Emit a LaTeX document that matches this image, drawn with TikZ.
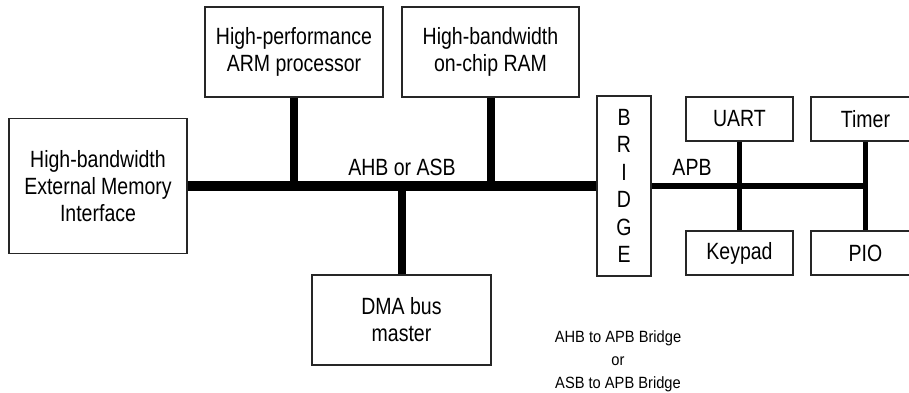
\documentclass[tikz,border=0pt]{standalone}
\usepackage{fontspec}
\setmainfont{Liberation Sans}[FakeStretch=0.83]
\newfontfamily\capfont{Liberation Sans}[FakeStretch=0.9]
\begin{document}
\begin{tikzpicture}[x=1pt,y=-1pt,
  box/.style={draw=black!85, line width=1.2pt, fill=white, inner sep=0pt,
    align=center, font=\fontsize{23.5}{27}\selectfont},
  bus/.style={line width=10pt},
  stub/.style={line width=8pt},
  apb/.style={line width=5.5pt},
  apbstub/.style={line width=4.5pt},
  lbl/.style={font=\fontsize{23.5}{27}\selectfont, inner sep=0pt},
  caption/.style={font=\capfont\fontsize{16.3}{23}\selectfont, inner sep=0pt, align=center}]
\useasboundingbox (0,0) rectangle (909,392);
\clip (0,0) rectangle (909,392);

\node[box, minimum width=178pt, minimum height=135pt] (ext) at (98,186)
  {High-bandwidth\\External Memory\\Interface};
\node[box, minimum width=178pt, minimum height=90pt] (arm) at (294,52)
  {High-performance\\ARM processor};
\node[box, minimum width=177pt, minimum height=90pt] (ram) at (490.5,52)
  {High-bandwidth\\on-chip RAM};
\node[box, minimum width=179pt, minimum height=90pt] (dma) at (401.5,320)
  {DMA bus\\master};
\node[box, minimum width=54pt, minimum height=180pt, font=\fontsize{23.5}{27.5}\selectfont] (bridge) at (624,186)
  {B\\R\\I\\D\\G\\E};
\node[box, minimum width=107pt, minimum height=44pt] (uart) at (739.5,119) {UART};
\node[box, minimum width=107pt, minimum height=44pt] (keypad) at (739.5,253) {Keypad};
\node[box, minimum width=109pt, minimum height=44pt] (timer) at (865.5,119) {Timer};
\node[box, minimum width=109pt, minimum height=44pt] (pio) at (865.5,253) {PIO};

\draw[bus] (ext.east) -- (bridge.west);
\draw[stub] (arm.south) -- (arm.south |- ext.east);
\draw[stub] (ram.south) -- (ram.south |- ext.east);
\draw[stub] (dma.north) -- (dma.north |- ext.east);

\draw[apb] (bridge.east) -- (timer.south |- bridge.east);
\draw[apbstub] (uart.south) -- (keypad.north);
\draw[apbstub] (timer.south) -- (pio.north);

\node[lbl] (ahb) at (402,167) {AHB or ASB};
\node[lbl] (apblbl) at (692,167) {APB};
\node[caption] (cap) at (618,361) {AHB to APB Bridge\\or\\ASB to APB Bridge};
\end{tikzpicture}
\end{document}
